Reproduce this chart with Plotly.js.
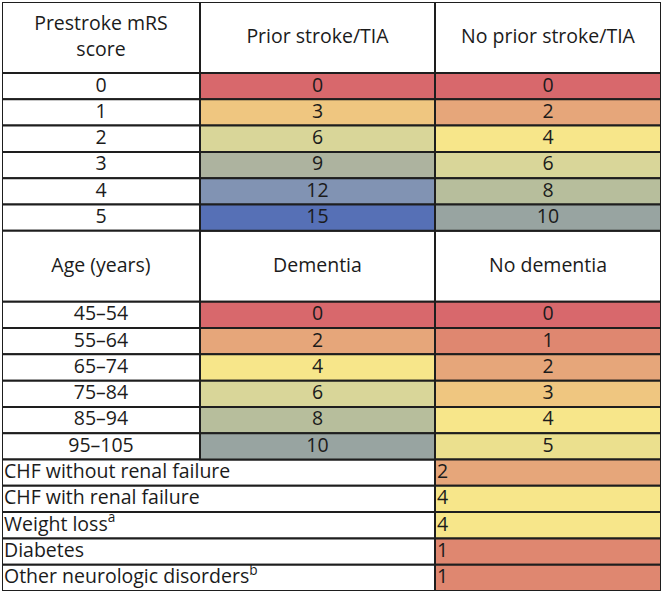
<!DOCTYPE html>
<html>
<head>
<meta charset="utf-8">
<script src="https://cdn.plot.ly/plotly-3.0.1.min.js"></script>
<style>
html,body{margin:0;padding:0;background:#fff;}
</style>
</head>
<body>
<div id="chart" style="width:664px;height:595px;"></div>
<script>
// ---- data ----
const header1 = ['Prestroke mRS<br>score', 'Prior stroke/TIA', 'No prior stroke/TIA'];
const mrsLabels = ['0', '1', '2', '3', '4', '5'];
const priorStroke = [0, 3, 6, 9, 12, 15];
const noPriorStroke = [0, 2, 4, 6, 8, 10];

const header2 = ['Age (years)', 'Dementia', 'No dementia'];
const ageLabels = ['45–54', '55–64', '65–74', '75–84', '85–94', '95–105'];
const dementia = [0, 2, 4, 6, 8, 10];
const noDementia = [0, 1, 2, 3, 4, 5];

const comorbidities = ['CHF without renal failure', 'CHF with renal failure', 'Weight loss<sup>a</sup>', 'Diabetes', 'Other neurologic disorders<sup>b</sup>'];
const comorbidityPoints = [2, 4, 4, 1, 1];

// ---- styling / geometry ----
const COL_EDGES = [0, 198, 433, 659];
const HEADER_H = 71;
const ROW_H = (589 - 2 * HEADER_H) / 17;
const TEXT_DY = 0.5;
const FONT = {family: '"Open Sans", "Noto Sans", sans-serif', size: 19.5, color: '#1b1b1b'};
const LINE = {color: '#1e1e1e', width: 2};
const SCALE_MAX = 15;
const colorStops = [
  [0, '#D8686C'], [1, '#DF8770'], [2, '#E6A67A'], [3, '#EFC680'], [4, '#F7E68A'],
  [5, '#EBE08E'], [6, '#D9D699'], [8, '#B7BE9C'], [9, '#ADB39F'], [10, '#98A4A1'],
  [12, '#8193B3'], [15, '#5670B6']
];
const colorscale = colorStops.map(([v, c]) => [v / SCALE_MAX, c]);

// ---- build table rows ----
const rows = [];
let cursor = 0;
function pushRow(h, cells) { rows.push({y: cursor + h / 2, h, cells}); cursor += h; }

pushRow(HEADER_H, header1.map((t, i) => ({c0: i, c1: i + 1, text: t, value: null, align: 'center'})));
mrsLabels.forEach((lab, i) => pushRow(ROW_H, [
  {c0: 0, c1: 1, text: lab, value: null, align: 'center'},
  {c0: 1, c1: 2, text: String(priorStroke[i]), value: priorStroke[i], align: 'center'},
  {c0: 2, c1: 3, text: String(noPriorStroke[i]), value: noPriorStroke[i], align: 'center'}
]));
pushRow(HEADER_H, header2.map((t, i) => ({c0: i, c1: i + 1, text: t, value: null, align: 'center'})));
ageLabels.forEach((lab, i) => pushRow(ROW_H, [
  {c0: 0, c1: 1, text: lab, value: null, align: 'center'},
  {c0: 1, c1: 2, text: String(dementia[i]), value: dementia[i], align: 'center'},
  {c0: 2, c1: 3, text: String(noDementia[i]), value: noDementia[i], align: 'center'}
]));
comorbidities.forEach((lab, i) => pushRow(ROW_H, [
  {c0: 0, c1: 2, text: lab, value: null, align: 'left'},
  {c0: 2, c1: 3, text: String(comorbidityPoints[i]), value: comorbidityPoints[i], align: 'left'}
]));

const white = {y: [], w: [], base: [], x: []};
const colored = {y: [], w: [], base: [], x: [], v: []};
const textC = {x: [], y: [], t: []};
const textL = {x: [], y: [], t: []};
rows.forEach(r => r.cells.forEach(c => {
  const x0 = COL_EDGES[c.c0], x1 = COL_EDGES[c.c1];
  const tgt = c.value === null ? white : colored;
  tgt.y.push(r.y); tgt.w.push(r.h); tgt.base.push(x0); tgt.x.push(x1 - x0);
  if (c.value !== null) colored.v.push(c.value);
  if (c.align === 'center') { textC.x.push((x0 + x1) / 2); textC.y.push(r.y + TEXT_DY); textC.t.push(c.text); }
  else { textL.x.push(x0 + 2); textL.y.push(r.y + TEXT_DY); textL.t.push(c.text); }
}));

const traces = [
  {type: 'bar', orientation: 'h', y: white.y, x: white.x, base: white.base, width: white.w,
   marker: {color: '#ffffff', line: LINE}, hoverinfo: 'skip', showlegend: false},
  {type: 'bar', orientation: 'h', y: colored.y, x: colored.x, base: colored.base, width: colored.w,
   marker: {color: colored.v, colorscale: colorscale, cmin: 0, cmax: SCALE_MAX, showscale: false, line: LINE},
   hoverinfo: 'skip', showlegend: false},
  {type: 'scatter', mode: 'text', x: textC.x, y: textC.y, text: textC.t, textposition: 'middle center',
   textfont: FONT, hoverinfo: 'skip', showlegend: false},
  {type: 'scatter', mode: 'text', x: textL.x, y: textL.y, text: textL.t, textposition: 'middle right',
   textfont: FONT, hoverinfo: 'skip', showlegend: false}
];

const layout = {
  width: 664, height: 595,
  margin: {l: 2, r: 3, t: 2, b: 4, pad: 0},
  paper_bgcolor: '#ffffff', plot_bgcolor: '#ffffff',
  barmode: 'overlay',
  hovermode: false,
  xaxis: {range: [COL_EDGES[0], COL_EDGES[3]], visible: false, fixedrange: true},
  yaxis: {range: [cursor, 0], visible: false, fixedrange: true},
  showlegend: false
};
Plotly.newPlot('chart', traces, layout, {displayModeBar: false, staticPlot: true});
</script>
</body>
</html>
